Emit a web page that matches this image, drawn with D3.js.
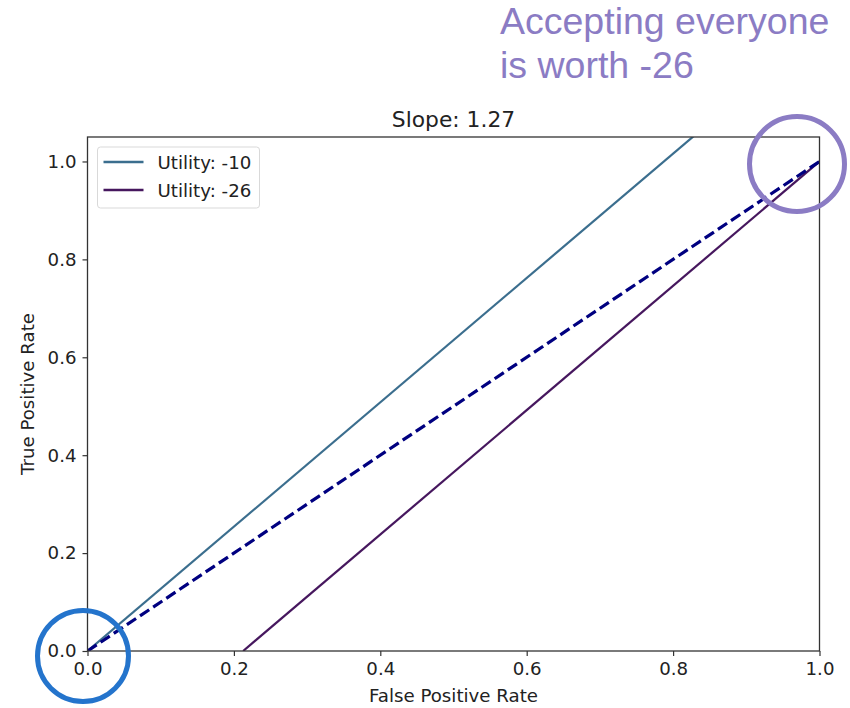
<!DOCTYPE html>
<html>
<head>
<meta charset="utf-8">
<script src="https://cdn.jsdelivr.net/npm/d3@7"></script>
<style>
  body { margin: 0; background: #fff; }
  svg { display: block; }
</style>
</head>
<body>
<svg id="chart" width="850" height="708"></svg>
<script>
// ROC-space isoutility lines for a given slope
const slope = 1.27;
const seriesNames = ["Utility: -10", "Utility: -26"];
const seriesColors = ["#3b6e8e", "#46175e"];
// each isoutility line: y = slope * (x - xIntercept)
const xIntercepts = [0, 0.2126];
const diagonal = [[0, 0], [1, 1]];
const xTicks = [0, 0.2, 0.4, 0.6, 0.8, 1.0];
const yTicks = [0, 0.2, 0.4, 0.6, 0.8, 1.0];
const noteLines = ["Accepting everyone", "is worth -26"];

const svg = d3.select("#chart");
const margin = { left: 87.5, right: 30.5, top: 137, bottom: 57 };
const W = 850, H = 708;

const x = d3.scaleLinear().domain([0, 1]).range([margin.left, W - margin.right]);
const y = d3.scaleLinear().domain([0, 1.05]).range([H - margin.bottom, margin.top]);

const font = "'DejaVu Sans', sans-serif";
const fs = 18.2;

// clip region for the plot area
svg.append("clipPath").attr("id", "plotclip")
  .append("rect")
  .attr("x", x(0)).attr("y", y(1.05))
  .attr("width", x(1) - x(0)).attr("height", y(0) - y(1.05));

const plot = svg.append("g").attr("clip-path", "url(#plotclip)");
const line = d3.line().x(d => x(d[0])).y(d => y(d[1]));

xIntercepts.forEach((x0, i) => {
  const pts = [[x0, 0], [1.2, slope * (1.2 - x0)]];
  plot.append("path")
    .attr("d", line(pts))
    .attr("fill", "none")
    .attr("stroke", seriesColors[i])
    .attr("stroke-width", 2.2);
});

plot.append("path")
  .attr("d", line(diagonal))
  .attr("fill", "none")
  .attr("stroke", "#000080")
  .attr("stroke-width", 3.2)
  .attr("stroke-dasharray", "11,4.8");

// axes
const xAxis = svg.append("g")
  .attr("transform", `translate(0,${y(0)})`)
  .call(d3.axisBottom(x).tickValues(xTicks).tickFormat(d3.format(".1f")).tickSizeOuter(0).tickSize(5).tickPadding(6));
const yAxis = svg.append("g")
  .attr("transform", `translate(${x(0)},0)`)
  .call(d3.axisLeft(y).tickValues(yTicks).tickFormat(d3.format(".1f")).tickSizeOuter(0).tickSize(5).tickPadding(6));
[xAxis, yAxis].forEach(a => {
  a.select(".domain").remove();
  a.selectAll("line").attr("stroke", "#333").attr("stroke-width", 1.2);
  a.selectAll("text").attr("font-family", font).attr("font-size", fs).attr("fill", "#222");
});

// frame
svg.append("rect")
  .attr("x", x(0)).attr("y", y(1.05))
  .attr("width", x(1) - x(0)).attr("height", y(0) - y(1.05))
  .attr("fill", "none").attr("stroke", "#333").attr("stroke-width", 1.3);

// title and axis labels
svg.append("text")
  .attr("x", (x(0) + x(1)) / 2).attr("y", 127)
  .attr("text-anchor", "middle")
  .attr("font-family", font).attr("font-size", 21.8).attr("fill", "#222")
  .text("Slope: " + slope.toFixed(2));
svg.append("text")
  .attr("x", (x(0) + x(1)) / 2).attr("y", 702)
  .attr("text-anchor", "middle")
  .attr("font-family", font).attr("font-size", fs).attr("fill", "#222")
  .text("False Positive Rate");
svg.append("text")
  .attr("transform", `translate(34,${(y(0) + y(1.05)) / 2}) rotate(-90)`)
  .attr("text-anchor", "middle")
  .attr("font-family", font).attr("font-size", fs).attr("fill", "#222")
  .text("True Positive Rate");

// legend
const lg = svg.append("g").attr("transform", `translate(${x(0) + 10},${y(1.05) + 10})`);
lg.append("rect")
  .attr("width", 162).attr("height", 61).attr("rx", 3)
  .attr("fill", "#fff").attr("fill-opacity", 0.8)
  .attr("stroke", "#d9d9d9").attr("stroke-width", 1);
seriesNames.forEach((name, i) => {
  const yy = 15 + i * 28;
  lg.append("line")
    .attr("x1", 6).attr("x2", 46).attr("y1", yy).attr("y2", yy)
    .attr("stroke", seriesColors[i]).attr("stroke-width", 2.4);
  lg.append("text")
    .attr("x", 60).attr("y", yy + 6.5)
    .attr("font-family", font).attr("font-size", fs).attr("fill", "#222")
    .text(name);
});

// annotation circles
svg.append("circle")
  .attr("cx", 83).attr("cy", 656).attr("r", 45.5)
  .attr("fill", "none").attr("stroke", "#2474cc").attr("stroke-width", 5);
svg.append("circle")
  .attr("cx", 797).attr("cy", 164).attr("r", 47.5)
  .attr("fill", "none").attr("stroke", "#8b7cc4").attr("stroke-width", 5);

// annotation text
noteLines.forEach((t, i) => {
  svg.append("text")
    .attr("x", 500).attr("y", 34 + i * 44)
    .attr("font-family", "'Liberation Sans', Arial, sans-serif")
    .attr("font-size", 37.5).attr("fill", "#8b7cc4")
    .text(t);
});
</script>
</body>
</html>
